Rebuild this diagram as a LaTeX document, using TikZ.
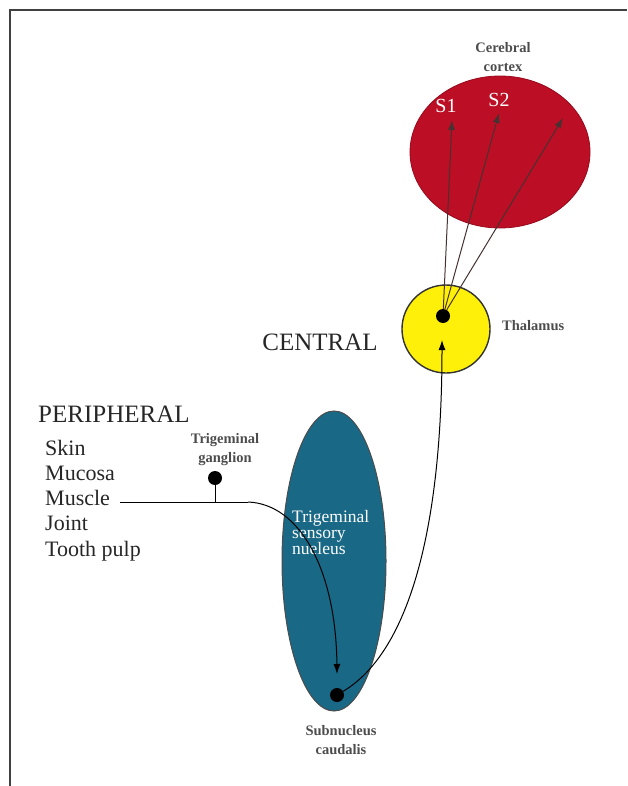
\documentclass[tikz,border=0pt]{standalone}
\usepackage{fontspec}
\setmainfont{Liberation Serif}
\usetikzlibrary{arrows.meta,shapes.geometric}
\definecolor{cortexred}{RGB}{188,14,36}
\definecolor{nucteal}{RGB}{24,104,134}
\definecolor{thalyellow}{RGB}{255,240,10}
\definecolor{fibre}{RGB}{70,50,50}
\tikzset{
  px/.style={x=1pt,y=-1pt},
  big/.style={font=\fontsize{25}{27}\selectfont, text=black!85, inner sep=0pt},
  item/.style={font=\fontsize{22}{25}\selectfont, text=black!85, anchor=base west, inner sep=0pt},
  small/.style={font=\fontsize{14.5}{19}\selectfont\bfseries, text=black!70, align=center, inner sep=0pt},
  dotnode/.style={circle, fill=black, inner sep=0pt, minimum size=14pt},
  tip/.style={-{Latex[length=10pt,width=7pt]}},
  fibrearrow/.style={draw=fibre, line width=1pt, tip},
  fibreline/.style={draw=black, line width=1pt},
}
\begin{document}
\begin{tikzpicture}[px]
\useasboundingbox (0,0) rectangle (627,786);
% frame (top and left)
\draw[line width=1.2pt, black!75] (10,786) -- (10,10) -- (627,10);
% cortex
\node[ellipse, fill=cortexred, draw=cortexred!80!black, line width=0.8pt, minimum width=180pt, minimum height=152pt] (cortex) at (500,152) {};
\node[small] (cortexlbl) at (503,57) {Cerebral\\cortex};
\node[font=\fontsize{20}{22}\selectfont, text=white, inner sep=0pt] (s1) at (446,106) {S1};
\node[font=\fontsize{20}{22}\selectfont, text=white, inner sep=0pt] (s2) at (499,100) {S2};
\coordinate (t1) at (452,120);
\coordinate (t2) at (499,113);
\coordinate (t3) at (563,118);
% thalamus
\node[circle, fill=thalyellow, draw=black!80, line width=1.4pt, minimum size=88pt] (thal) at (446,329) {};
\node[dotnode] (thaldot) at (443,316) {};
\node[small, anchor=west] (thallbl) at (502,326) {Thalamus};
\node[big] (central) at (320,342) {CENTRAL};
% nucleus
\node[ellipse, fill=nucteal, draw=black!70, line width=1pt, minimum width=104pt, minimum height=300pt] (nuc) at (334,561) {};
\node[font=\fontsize{17.5}{16}\selectfont, text=white, align=left, anchor=north west, inner sep=0pt] (nuclbl) at (292,510) {Trigeminal\\sensory\\nueleus};
\node[dotnode] (subdot) at (337,695) {};
\node[small] (sublbl) at (341,740) {Subnucleus\\caudalis};
% peripheral
\node[big, anchor=west] (periph) at (38,414) {PERIPHERAL};
\node[item] (skin) at (45,455) {Skin};
\node[item] (mucosa) at (45,480) {Mucosa};
\node[item] (muscle) at (45,505) {Muscle};
\node[item] (joint) at (45,530) {Joint};
\node[item] (tooth) at (45,556) {Tooth pulp};
\node[dotnode] (gang) at (215,478) {};
\node[small] (ganglbl) at (225,450) {Trigeminal\\ganglion};
\coordinate (muscleend) at (120,502);
\coordinate (stem) at (215,502);
\coordinate (bend) at (248,502);
% connectors
\draw[fibreline] (gang) -- (stem);
\draw[fibreline] (muscleend) -- (bend);
\draw[fibreline, tip] (bend) .. controls (300,504) and (336,570) .. (337,674);
\draw[fibreline, tip] (subdot) .. controls (412,650) and (442,520) .. (442,340);
\draw[fibrearrow] (thaldot) -- (t1);
\draw[fibrearrow] (thaldot) -- (t2);
\draw[fibrearrow] (thaldot) -- (t3);
\end{tikzpicture}
\end{document}
